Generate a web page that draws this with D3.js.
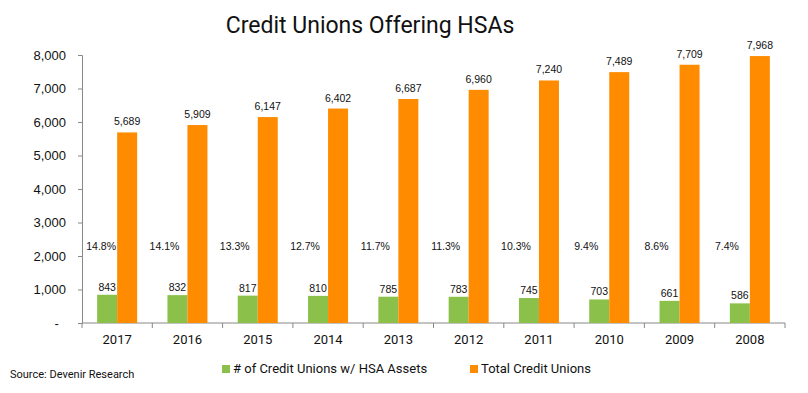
<!DOCTYPE html>
<html>
<head>
<meta charset="utf-8">
<script src="https://cdn.jsdelivr.net/npm/d3@7"></script>
<style>
  html, body { margin: 0; padding: 0; background: #fff; }
  svg { display: block; }
</style>
</head>
<body>
<svg id="chart" width="808" height="393"></svg>
<script>
const years = ["2017","2016","2015","2014","2013","2012","2011","2010","2009","2008"];
const hsaCounts = [843, 832, 817, 810, 785, 783, 745, 703, 661, 586];
const totalCounts = [5689, 5909, 6147, 6402, 6687, 6960, 7240, 7489, 7709, 7968];
const pctLabels = ["14.8%","14.1%","13.3%","12.7%","11.7%","11.3%","10.3%","9.4%","8.6%","7.4%"];
const yTicks = [0, 1000, 2000, 3000, 4000, 5000, 6000, 7000, 8000];
const seriesNames = ["# of Credit Unions w/ HSA Assets", "Total Credit Unions"];
const seriesColors = ["#8BC14A", "#FF8C00"];
const pctLabelLevel = 2180;

(function () {
const svg = d3.select("#chart");
const mLeft = 82, mRight = 785, mTop = 55, mBottom = 323;

const x = d3.scaleBand().domain(years).range([mLeft, mRight]).padding(0);
const y = d3.scaleLinear().domain([0, 8000]).range([mBottom, mTop]);
const barW = 20;

const axisColor = "#888";
const numFont = "'Liberation Sans', Arial, sans-serif";
const uiFont = "Roboto, 'Noto Sans', sans-serif";

// Title
svg.append("text")
  .attr("x", 370).attr("y", 33)
  .attr("text-anchor", "middle")
  .attr("font-family", uiFont)
  .attr("font-size", 23)
  .attr("fill", "#111")
  .text("Credit Unions Offering HSAs");

// Y axis
const yAxis = d3.axisLeft(y).tickValues(yTicks).tickSize(4).tickPadding(12)
  .tickFormat(d => d === 0 ? "-\u00a0\u00a0" : d3.format(",")(d));
const gy = svg.append("g").attr("transform", `translate(${mLeft},0)`).call(yAxis);
gy.select(".domain").attr("stroke", axisColor);
gy.selectAll(".tick line").attr("stroke", axisColor);
gy.selectAll(".tick text").attr("font-family", numFont).attr("font-size", 13).attr("fill", "#111");

// X axis
const gx = svg.append("g").attr("transform", `translate(0,${mBottom})`);
gx.append("line").attr("x1", mLeft).attr("x2", mRight).attr("y1", 0).attr("y2", 0).attr("stroke", axisColor);
const bounds = years.map(d => x(d)).concat([mRight]);
gx.selectAll("line.tk").data(bounds).enter().append("line")
  .attr("class", "tk")
  .attr("x1", d => d).attr("x2", d => d).attr("y1", 0).attr("y2", 5)
  .attr("stroke", axisColor);
gx.selectAll("text").data(years).enter().append("text")
  .attr("x", d => x(d) + x.bandwidth() / 2)
  .attr("y", 21)
  .attr("text-anchor", "middle")
  .attr("font-family", uiFont)
  .attr("font-size", 13)
  .attr("fill", "#111")
  .text(d => d);

// Bars
const cx = d => x(d) + x.bandwidth() / 2;
svg.append("g").selectAll("rect").data(years).enter().append("rect")
  .attr("x", d => cx(d) - barW)
  .attr("width", barW)
  .attr("y", (d, i) => y(hsaCounts[i]))
  .attr("height", (d, i) => y(0) - y(hsaCounts[i]))
  .attr("fill", seriesColors[0]);
svg.append("g").selectAll("rect").data(years).enter().append("rect")
  .attr("x", d => cx(d))
  .attr("width", barW)
  .attr("y", (d, i) => y(totalCounts[i]))
  .attr("height", (d, i) => y(0) - y(totalCounts[i]))
  .attr("fill", seriesColors[1]);

// Value labels
const fmt = d3.format(",");
svg.append("g").selectAll("text").data(years).enter().append("text")
  .attr("x", d => cx(d) - barW / 2)
  .attr("y", (d, i) => y(hsaCounts[i]) - 4)
  .attr("text-anchor", "middle")
  .attr("font-family", numFont).attr("font-size", 10.5).attr("fill", "#111")
  .text((d, i) => fmt(hsaCounts[i]));
svg.append("g").selectAll("text").data(years).enter().append("text")
  .attr("x", d => cx(d) + barW / 2)
  .attr("y", (d, i) => y(totalCounts[i]) - 7)
  .attr("text-anchor", "middle")
  .attr("font-family", numFont).attr("font-size", 10.5).attr("fill", "#111")
  .text((d, i) => fmt(totalCounts[i]));
svg.append("g").selectAll("text").data(years).enter().append("text")
  .attr("x", (d, i) => cx(d) - (i === 0 ? 16 : 23))
  .attr("y", y(pctLabelLevel))
  .attr("text-anchor", "middle")
  .attr("font-family", numFont).attr("font-size", 10.5).attr("fill", "#111")
  .text((d, i) => pctLabels[i]);

// Legend
const legendX = [222, 470];
seriesNames.forEach((name, i) => {
  svg.append("rect").attr("x", legendX[i]).attr("y", 365).attr("width", 8).attr("height", 8)
    .attr("fill", seriesColors[i]);
  svg.append("text").attr("x", legendX[i] + 11).attr("y", 373)
    .attr("font-family", uiFont).attr("font-size", 13).attr("fill", "#111")
    .text(name);
});

// Source
svg.append("text").attr("x", 10).attr("y", 378)
  .attr("font-family", uiFont).attr("font-size", 11).attr("fill", "#111")
  .text("Source: Devenir Research");
})();
</script>
</body>
</html>
